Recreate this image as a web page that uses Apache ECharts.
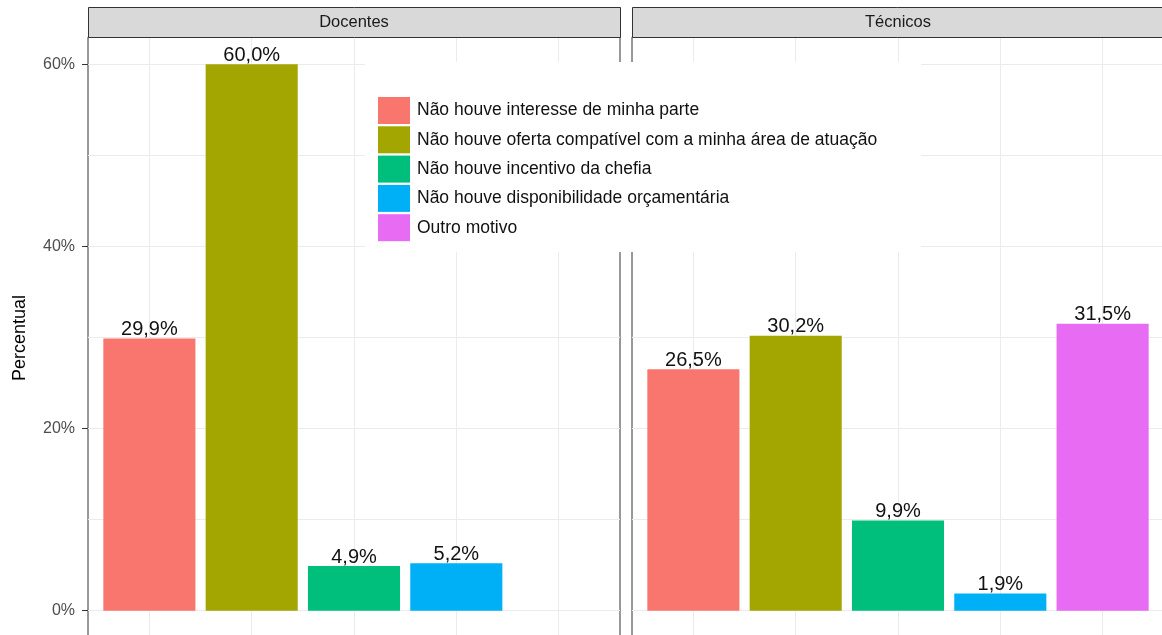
<!DOCTYPE html>
<html>
<head>
<meta charset="utf-8">
<script src="https://cdn.jsdelivr.net/npm/echarts@6/dist/echarts.min.js"></script>
<style>
  html, body { margin: 0; padding: 0; background: #fff; }
  #chart { width: 1162px; height: 635px; }
</style>
</head>
<body>
<div id="chart"></div>
<script>
// reasons (legend + fill order)
const motivos = [
  'Não houve interesse de minha parte',
  'Não houve oferta compatível com a minha área de atuação',
  'Não houve incentivo da chefia',
  'Não houve disponibilidade orçamentária',
  'Outro motivo'
]
const paineis = ['Docentes', 'Técnicos']
const docentes = [29.9, 60.0, 4.9, 5.2, null]
const tecnicos = [26.5, 30.2, 9.9, 1.9, 31.5]
const yTicks = [0, 20, 40, 60]
const yGrid = [0, 10, 20, 30, 40, 50, 60]
const xPos = [0, 1, 2, 3, 4]

const cores = ['#F8766D', '#A3A500', '#00BF7D', '#00B0F6', '#E76BF3']
const font = "'Liberation Sans', Arial, sans-serif"

const fmt = v => v.toFixed(1).replace('.', ',') + '%'

const chart = echarts.init(document.getElementById('chart'))

// panels run past the bottom / right edge, like the cropped original
const grids = [
  { left: 88, top: 37, width: 532, height: 601 },
  { left: 632, top: 37, width: 532, height: 601 }
].map(g => ({
  ...g,
  outerBoundsMode: 'none',
  show: true,
  borderColor: '#333',
  borderWidth: 1,
  backgroundColor: 'transparent'
}))

const xAxes = grids.map((g, i) => ({
  type: 'value',
  gridIndex: i,
  min: -0.6,
  max: 4.6,
  axisLine: { show: false },
  axisTick: { show: false, customValues: xPos },
  axisLabel: { show: false },
  splitLine: { show: true, lineStyle: { color: '#ebebeb', width: 1 } }
}))

const gridY = i => ({
  type: 'value',
  gridIndex: i,
  position: 'left',
  min: -3,
  max: 63,
  axisLine: { show: false },
  axisTick: { show: false, customValues: yGrid },
  axisLabel: { show: false },
  splitLine: { show: true, lineStyle: { color: '#ebebeb', width: 1 } }
})

const yAxes = [
  gridY(0),
  {
    type: 'value',
    gridIndex: 0,
    position: 'left',
    min: -3,
    max: 63,
    axisLine: { show: false },
    axisTick: { show: true, length: 6, customValues: yTicks, lineStyle: { color: '#333' } },
    axisLabel: {
      customValues: yTicks,
      formatter: v => v + '%',
      color: '#4d4d4d',
      fontSize: 16,
      fontFamily: font,
      margin: 13
    },
    splitLine: { show: false }
  },
  gridY(1)
]

const series = []
;[docentes, tecnicos].forEach((vals, g) => {
  motivos.forEach((m, i) => {
    series.push({
      type: 'bar',
      name: m,
      xAxisIndex: g,
      yAxisIndex: g === 0 ? 0 : 2,
      barWidth: '90%',
      barGap: '-100%',
      itemStyle: { color: cores[i] },
      label: {
        show: true,
        position: 'top',
        distance: -1,
        fontSize: 20,
        color: '#111',
        fontFamily: font,
        formatter: p => fmt(p.value[1])
      },
      data: vals[i] == null ? [] : [[xPos[i], vals[i]]]
    })
  })
})

const strips = []
grids.forEach((g, i) => {
  strips.push({
    type: 'rect',
    z: 5,
    shape: { x: g.left + 0.5, y: 7.5, width: g.width, height: 30 },
    style: { fill: '#d9d9d9', stroke: '#333', lineWidth: 1 }
  })
  strips.push({
    type: 'text',
    z: 6,
    x: g.left + g.width / 2,
    y: 22.5,
    style: {
      text: paineis[i],
      fontSize: 16.5,
      fontFamily: font,
      fill: '#1a1a1a',
      align: 'center',
      verticalAlign: 'middle'
    }
  })
})

chart.setOption({
  animation: false,
  textStyle: { fontFamily: font },
  grid: grids,
  xAxis: xAxes,
  yAxis: yAxes,
  legend: {
    data: motivos,
    orient: 'vertical',
    left: 378,
    top: 97,
    padding: 0,
    itemWidth: 32,
    itemHeight: 27,
    itemGap: 2.3,
    icon: 'rect',
    z: 20,
    selectedMode: false,
    textStyle: { fontSize: 17.5, color: '#111', fontFamily: font, padding: [0, 0, 0, 2] }
  },
  graphic: [
    ...strips,
    {
      type: 'rect',
      z: 10,
      shape: { x: 365, y: 62, width: 556, height: 190 },
      style: { fill: '#fff' }
    },
    {
      type: 'text',
      x: 20,
      y: 338,
      rotation: Math.PI / 2,
      style: {
        text: 'Percentual',
        fontSize: 18,
        fontFamily: font,
        fill: '#000',
        align: 'center',
        verticalAlign: 'middle'
      }
    }
  ],
  series: series
})

window.addEventListener('resize', () => chart.resize())
</script>
</body>
</html>
